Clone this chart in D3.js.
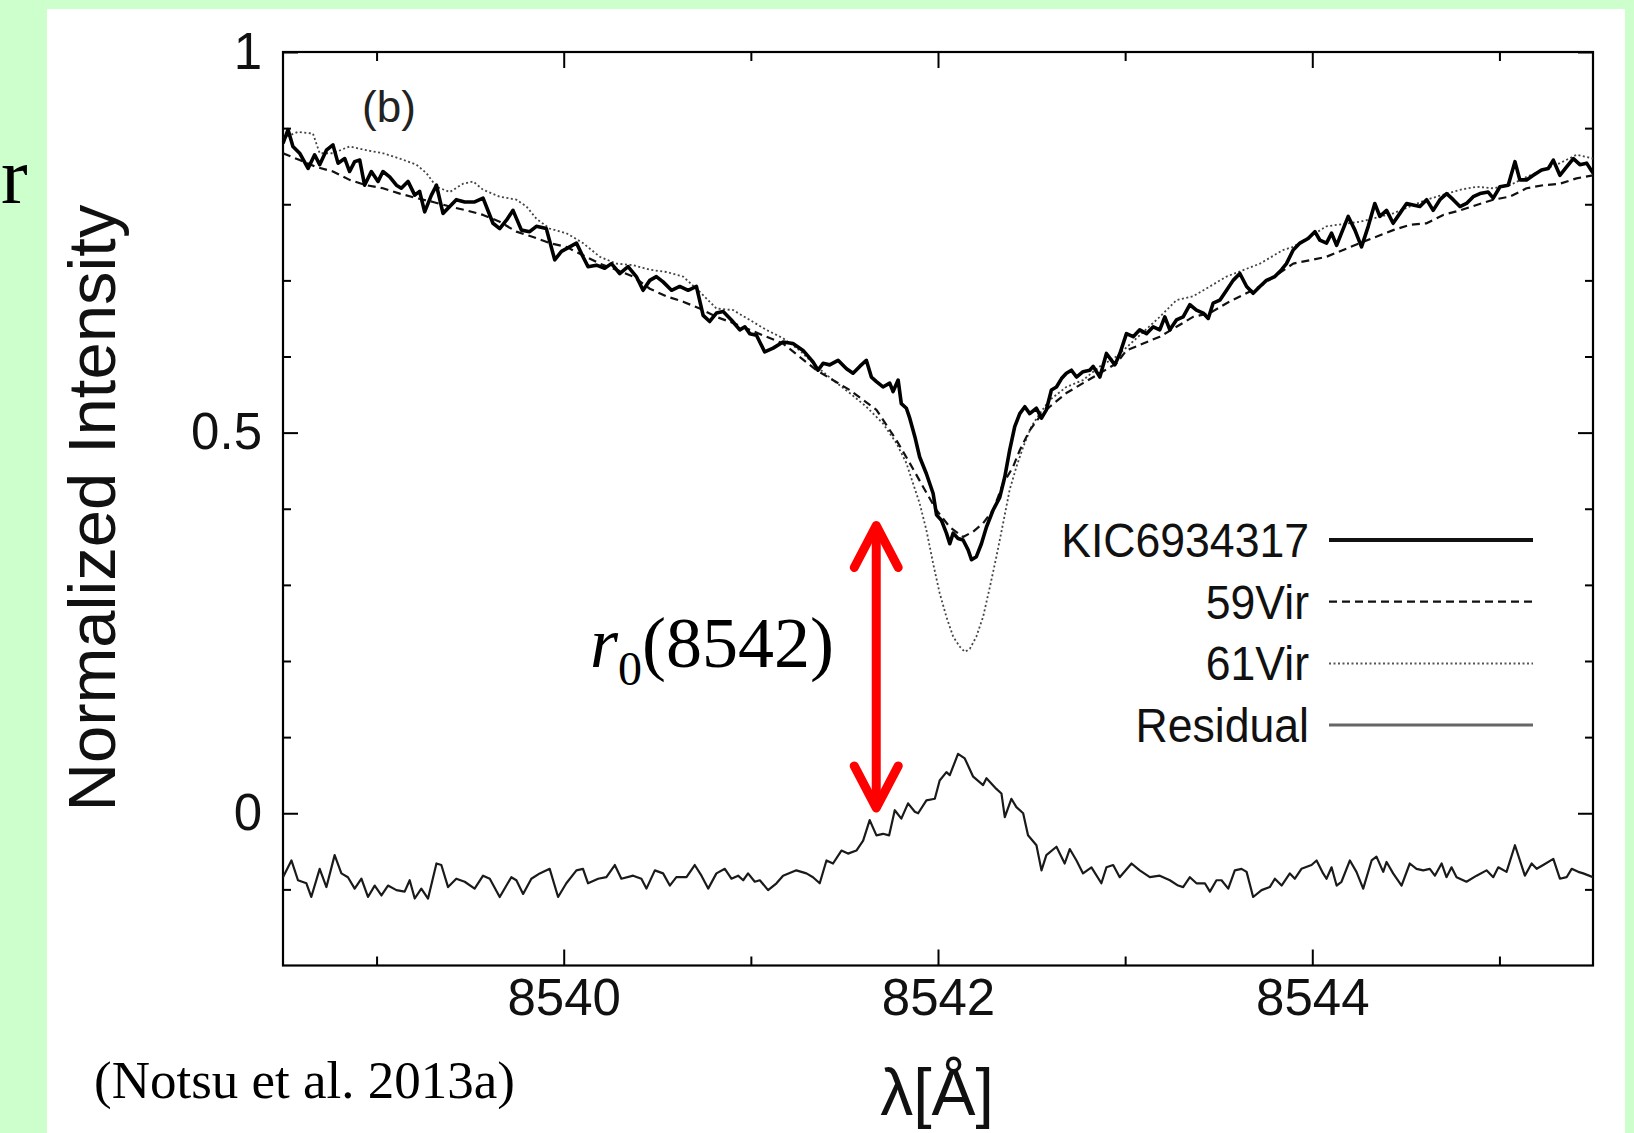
<!DOCTYPE html>
<html>
<head>
<meta charset="utf-8">
<script src="https://cdn.jsdelivr.net/npm/d3@7"></script>
<style>
  body { margin: 0; background: #ccffcc; }
  svg { display: block; }
  .sans { font-family: "Liberation Sans", Arial, Helvetica, sans-serif; }
  .serif { font-family: "Liberation Serif", "Times New Roman", serif; }
</style>
</head>
<body>
<div id="chart"></div>
<script>
// ----- Data (wavelength in Angstrom, normalized intensity) -----
const xMajorTicks = [8540, 8542, 8544];
const xMinorTicks = [8539, 8541, 8543, 8545];
const yMajorTicks = [0, 0.5, 1];
const yMinorTicks = [-0.1, 0.1, 0.2, 0.3, 0.4, 0.6, 0.7, 0.8, 0.9];

const seriesNames = ["KIC6934317", "59Vir", "61Vir", "Residual"];

const kic = [
  [8538.500,0.880],[8538.527,0.898],[8538.553,0.876],[8538.589,0.867],[8538.634,0.847],[8538.669,0.865],
  [8538.696,0.852],[8538.732,0.871],[8538.767,0.878],[8538.794,0.854],[8538.830,0.860],[8538.856,0.843],
  [8538.883,0.856],[8538.910,0.858],[8538.936,0.825],[8538.972,0.843],[8539.008,0.830],[8539.034,0.843],
  [8539.070,0.836],[8539.106,0.825],[8539.132,0.821],[8539.168,0.830],[8539.204,0.812],[8539.230,0.817],
  [8539.257,0.790],[8539.293,0.812],[8539.320,0.825],[8539.355,0.788],[8539.391,0.797],[8539.426,0.806],
  [8539.471,0.803],[8539.524,0.803],[8539.569,0.808],[8539.622,0.775],[8539.658,0.768],[8539.694,0.779],
  [8539.729,0.792],[8539.774,0.766],[8539.818,0.764],[8539.854,0.771],[8539.907,0.768],[8539.952,0.727],
  [8539.988,0.738],[8540.032,0.744],[8540.068,0.749],[8540.103,0.731],[8540.130,0.718],[8540.175,0.720],
  [8540.219,0.716],[8540.255,0.722],[8540.299,0.709],[8540.344,0.718],[8540.388,0.705],[8540.424,0.687],
  [8540.460,0.700],[8540.495,0.705],[8540.531,0.698],[8540.576,0.687],[8540.620,0.692],[8540.665,0.687],
  [8540.709,0.692],[8540.745,0.654],[8540.780,0.646],[8540.816,0.657],[8540.852,0.659],[8540.896,0.648],
  [8540.941,0.635],[8540.968,0.639],[8540.994,0.630],[8541.030,0.628],[8541.074,0.606],[8541.119,0.611],
  [8541.172,0.619],[8541.225,0.617],[8541.279,0.608],[8541.332,0.593],[8541.359,0.582],[8541.386,0.591],
  [8541.421,0.589],[8541.466,0.595],[8541.511,0.584],[8541.546,0.578],[8541.582,0.587],[8541.617,0.595],
  [8541.644,0.573],[8541.671,0.567],[8541.706,0.560],[8541.742,0.565],[8541.760,0.554],[8541.787,0.569],
  [8541.804,0.538],[8541.831,0.532],[8541.849,0.519],[8541.876,0.495],[8541.902,0.468],[8541.938,0.446],
  [8541.974,0.420],[8541.992,0.392],[8542.018,0.385],[8542.045,0.368],[8542.063,0.354],[8542.081,0.368],
  [8542.107,0.361],[8542.134,0.359],[8542.161,0.346],[8542.179,0.333],[8542.205,0.337],[8542.232,0.354],
  [8542.259,0.376],[8542.294,0.398],[8542.330,0.415],[8542.357,0.442],[8542.383,0.477],[8542.410,0.508],
  [8542.437,0.525],[8542.464,0.534],[8542.490,0.525],[8542.526,0.532],[8542.553,0.519],[8542.579,0.530],
  [8542.606,0.556],[8542.633,0.560],[8542.660,0.571],[8542.686,0.578],[8542.713,0.582],[8542.740,0.573],
  [8542.775,0.580],[8542.811,0.582],[8542.829,0.587],[8542.865,0.573],[8542.900,0.604],[8542.945,0.589],
  [8542.972,0.604],[8543.007,0.630],[8543.043,0.626],[8543.078,0.635],[8543.114,0.630],[8543.150,0.639],
  [8543.185,0.635],[8543.212,0.652],[8543.239,0.635],[8543.274,0.648],[8543.310,0.652],[8543.346,0.668],
  [8543.381,0.661],[8543.417,0.657],[8543.444,0.650],[8543.470,0.670],[8543.506,0.674],[8543.542,0.687],
  [8543.577,0.700],[8543.613,0.709],[8543.649,0.692],[8543.684,0.683],[8543.720,0.692],[8543.755,0.700],
  [8543.800,0.705],[8543.836,0.714],[8543.862,0.722],[8543.898,0.740],[8543.934,0.749],[8543.978,0.755],
  [8544.014,0.764],[8544.040,0.753],[8544.076,0.749],[8544.103,0.762],[8544.130,0.746],[8544.156,0.762],
  [8544.192,0.784],[8544.228,0.766],[8544.263,0.744],[8544.299,0.771],[8544.334,0.801],[8544.361,0.784],
  [8544.397,0.792],[8544.432,0.775],[8544.468,0.788],[8544.504,0.801],[8544.539,0.799],[8544.575,0.797],
  [8544.611,0.806],[8544.646,0.792],[8544.682,0.806],[8544.718,0.814],[8544.753,0.806],[8544.789,0.797],
  [8544.824,0.801],[8544.860,0.810],[8544.896,0.814],[8544.940,0.816],[8544.967,0.808],[8545.003,0.823],
  [8545.047,0.825],[8545.083,0.856],[8545.109,0.832],[8545.145,0.832],[8545.181,0.838],[8545.225,0.845],
  [8545.261,0.847],[8545.288,0.858],[8545.323,0.838],[8545.359,0.849],[8545.395,0.860],[8545.430,0.852],
  [8545.466,0.854],[8545.500,0.841]
];

const vir59 = [
  [8538.500,0.867],[8538.589,0.858],[8538.678,0.849],[8538.767,0.843],[8538.856,0.832],[8538.945,0.825],
  [8539.034,0.821],[8539.124,0.814],[8539.213,0.808],[8539.302,0.803],[8539.391,0.797],[8539.480,0.792],
  [8539.569,0.786],[8539.658,0.777],[8539.747,0.764],[8539.836,0.757],[8539.925,0.749],[8540.014,0.744],
  [8540.103,0.733],[8540.193,0.722],[8540.282,0.714],[8540.371,0.705],[8540.460,0.689],[8540.549,0.679],
  [8540.638,0.672],[8540.727,0.663],[8540.816,0.652],[8540.905,0.644],[8540.994,0.635],[8541.083,0.626],
  [8541.172,0.617],[8541.350,0.582],[8541.528,0.556],[8541.671,0.530],[8541.778,0.490],[8541.849,0.460],
  [8541.920,0.429],[8541.992,0.398],[8542.063,0.376],[8542.134,0.363],[8542.188,0.370],[8542.241,0.381],
  [8542.294,0.398],[8542.348,0.433],[8542.401,0.455],[8542.437,0.477],[8542.490,0.503],[8542.544,0.521],
  [8542.597,0.534],[8542.686,0.552],[8542.775,0.565],[8542.865,0.578],[8542.954,0.591],[8543.007,0.608],
  [8543.185,0.626],[8543.363,0.652],[8543.453,0.657],[8543.542,0.670],[8543.720,0.692],[8543.898,0.722],
  [8544.076,0.731],[8544.254,0.749],[8544.432,0.766],[8544.521,0.773],[8544.611,0.775],[8544.700,0.786],
  [8544.789,0.792],[8544.878,0.799],[8544.967,0.806],[8545.056,0.810],[8545.145,0.821],[8545.234,0.825],
  [8545.323,0.827],[8545.412,0.834],[8545.500,0.838]
];

const vir61 = [
  [8538.500,0.887],[8538.580,0.895],[8538.660,0.893],[8538.696,0.867],[8538.767,0.867],[8538.856,0.876],
  [8538.945,0.871],[8539.034,0.867],[8539.124,0.860],[8539.213,0.852],[8539.266,0.841],[8539.320,0.823],
  [8539.391,0.816],[8539.462,0.827],[8539.516,0.830],[8539.569,0.819],[8539.658,0.810],[8539.747,0.806],
  [8539.801,0.797],[8539.854,0.781],[8539.925,0.768],[8540.014,0.762],[8540.103,0.749],[8540.193,0.731],
  [8540.282,0.722],[8540.371,0.720],[8540.460,0.714],[8540.549,0.711],[8540.638,0.705],[8540.727,0.685],
  [8540.816,0.663],[8540.905,0.661],[8540.994,0.648],[8541.083,0.635],[8541.172,0.624],[8541.261,0.608],
  [8541.350,0.587],[8541.439,0.569],[8541.528,0.552],[8541.617,0.534],[8541.706,0.512],[8541.778,0.486],
  [8541.831,0.460],[8541.867,0.433],[8541.902,0.407],[8541.938,0.372],[8541.974,0.328],[8542.009,0.289],
  [8542.045,0.258],[8542.081,0.232],[8542.116,0.219],[8542.143,0.212],[8542.170,0.216],[8542.205,0.232],
  [8542.241,0.258],[8542.277,0.297],[8542.312,0.337],[8542.348,0.381],[8542.383,0.425],[8542.419,0.455],
  [8542.455,0.481],[8542.499,0.508],[8542.544,0.525],[8542.597,0.543],[8542.686,0.560],[8542.775,0.569],
  [8542.865,0.587],[8542.954,0.600],[8543.043,0.620],[8543.185,0.652],[8543.274,0.674],[8543.363,0.679],
  [8543.542,0.705],[8543.720,0.722],[8543.845,0.740],[8543.898,0.744],[8544.076,0.771],[8544.254,0.777],
  [8544.432,0.788],[8544.611,0.806],[8544.789,0.819],[8544.878,0.823],[8544.967,0.821],[8545.056,0.825],
  [8545.145,0.836],[8545.234,0.845],[8545.323,0.854],[8545.412,0.865],[8545.500,0.860]
];

const residual = [
  [8538.500,-0.084],[8538.545,-0.062],[8538.580,-0.088],[8538.625,-0.092],[8538.651,-0.110],[8538.696,-0.073],
  [8538.732,-0.097],[8538.776,-0.055],[8538.812,-0.079],[8538.847,-0.084],[8538.883,-0.099],[8538.919,-0.086],
  [8538.954,-0.110],[8538.990,-0.095],[8539.026,-0.108],[8539.061,-0.095],[8539.106,-0.101],[8539.150,-0.103],
  [8539.177,-0.088],[8539.204,-0.112],[8539.239,-0.099],[8539.275,-0.112],[8539.320,-0.066],[8539.346,-0.068],
  [8539.382,-0.097],[8539.426,-0.086],[8539.471,-0.090],[8539.524,-0.099],[8539.569,-0.082],[8539.605,-0.086],
  [8539.658,-0.110],[8539.720,-0.084],[8539.747,-0.088],[8539.783,-0.106],[8539.827,-0.086],[8539.872,-0.079],
  [8539.925,-0.073],[8539.970,-0.110],[8540.014,-0.092],[8540.068,-0.075],[8540.103,-0.073],[8540.130,-0.092],
  [8540.184,-0.086],[8540.228,-0.084],[8540.273,-0.068],[8540.308,-0.086],[8540.371,-0.082],[8540.415,-0.086],
  [8540.442,-0.099],[8540.487,-0.075],[8540.531,-0.079],[8540.567,-0.095],[8540.602,-0.084],[8540.656,-0.084],
  [8540.700,-0.068],[8540.736,-0.082],[8540.772,-0.099],[8540.816,-0.079],[8540.861,-0.073],[8540.896,-0.086],
  [8540.932,-0.082],[8540.959,-0.088],[8540.985,-0.079],[8541.021,-0.090],[8541.048,-0.088],[8541.092,-0.101],
  [8541.137,-0.092],[8541.172,-0.082],[8541.243,-0.075],[8541.297,-0.079],[8541.332,-0.084],[8541.368,-0.092],
  [8541.404,-0.062],[8541.439,-0.066],[8541.484,-0.049],[8541.519,-0.053],[8541.564,-0.049],[8541.600,-0.036],
  [8541.635,-0.009],[8541.671,-0.029],[8541.706,-0.027],[8541.739,-0.029],[8541.769,0.004],[8541.804,-0.007],
  [8541.840,0.013],[8541.876,0.002],[8541.894,0.000],[8541.938,0.017],[8541.983,0.019],[8542.009,0.043],
  [8542.045,0.054],[8542.063,0.050],[8542.107,0.078],[8542.143,0.072],[8542.188,0.048],[8542.241,0.037],
  [8542.259,0.046],[8542.312,0.032],[8542.339,0.026],[8542.357,-0.005],[8542.392,0.019],[8542.419,0.008],
  [8542.455,0.000],[8542.481,-0.029],[8542.526,-0.042],[8542.553,-0.075],[8542.579,-0.055],[8542.633,-0.044],
  [8542.677,-0.066],[8542.704,-0.047],[8542.740,-0.062],[8542.775,-0.079],[8542.820,-0.071],[8542.873,-0.092],
  [8542.900,-0.071],[8542.936,-0.068],[8542.971,-0.084],[8543.034,-0.066],[8543.078,-0.075],[8543.132,-0.084],
  [8543.185,-0.082],[8543.239,-0.088],[8543.283,-0.095],[8543.310,-0.097],[8543.346,-0.084],[8543.381,-0.092],
  [8543.426,-0.092],[8543.453,-0.103],[8543.488,-0.088],[8543.515,-0.088],[8543.551,-0.099],[8543.586,-0.075],
  [8543.622,-0.073],[8543.649,-0.077],[8543.684,-0.110],[8543.729,-0.101],[8543.773,-0.097],[8543.800,-0.086],
  [8543.836,-0.095],[8543.880,-0.079],[8543.907,-0.086],[8543.942,-0.073],[8543.996,-0.068],[8544.023,-0.062],
  [8544.058,-0.079],[8544.076,-0.086],[8544.103,-0.071],[8544.130,-0.095],[8544.156,-0.090],[8544.201,-0.062],
  [8544.236,-0.077],[8544.272,-0.099],[8544.317,-0.062],[8544.343,-0.057],[8544.379,-0.077],[8544.397,-0.064],
  [8544.432,-0.079],[8544.477,-0.095],[8544.521,-0.066],[8544.557,-0.073],[8544.593,-0.075],[8544.628,-0.073],
  [8544.655,-0.082],[8544.691,-0.066],[8544.717,-0.084],[8544.744,-0.071],[8544.771,-0.084],[8544.824,-0.090],
  [8544.878,-0.082],[8544.931,-0.075],[8544.967,-0.084],[8544.994,-0.071],[8545.038,-0.077],[8545.083,-0.042],
  [8545.136,-0.082],[8545.172,-0.066],[8545.199,-0.073],[8545.234,-0.068],[8545.288,-0.060],[8545.323,-0.086],
  [8545.359,-0.084],[8545.386,-0.073],[8545.421,-0.077],[8545.448,-0.079],[8545.500,-0.084]
];

// r0 arrow: wavelength and intensity span
const arrowLambda = 8541.67;
const arrowSpan = [0.007, 0.378];

// ----- Config -----
const width = 1634;
const height = 1133;
const plot = { left: 283, right: 1593, top: 52, bottom: 965.5 };

const series = [
  { name: seriesNames[0], data: kic,      stroke: "#000", width: 3.6, dash: null,  lw: 4,   lstroke: "#111" },
  { name: seriesNames[1], data: vir59,    stroke: "#111", width: 2.2, dash: "8,5", lw: 2.2, lstroke: "#111" },
  { name: seriesNames[2], data: vir61,    stroke: "#444", width: 1.8, dash: "2,2.5", lw: 2, lstroke: "#555" },
  { name: seriesNames[3], data: residual, stroke: "#1a1a1a", width: 2.2, dash: null, lw: 3, lstroke: "#666" }
];

// ----- SVG setup -----
const svg = d3.select("#chart")
  .append("svg")
  .attr("width", width)
  .attr("height", height);

svg.append("rect")
  .attr("width", width).attr("height", height)
  .attr("fill", "#ccffcc");

svg.append("rect")
  .attr("x", 47).attr("y", 9)
  .attr("width", 1578).attr("height", height - 9)
  .attr("fill", "#fff");

const x = d3.scaleLinear()
  .domain([8538.5, 8545.5])
  .range([plot.left, plot.right]);

const y = d3.scaleLinear()
  .domain([-0.2, 1])
  .range([plot.bottom, plot.top]);

// ----- Axes (ticks inward on all four sides) -----
function styleAxis(g) {
  g.select(".domain").remove();
  g.selectAll(".tick line").attr("stroke", "#000").attr("stroke-width", 2);
  g.selectAll("text")
    .attr("class", "sans")
    .attr("fill", "#111")
    .style("font-size", "51px");
}

svg.append("g")
  .attr("transform", `translate(0,${plot.bottom})`)
  .call(d3.axisBottom(x).tickValues(xMajorTicks).tickSize(-16).tickPadding(13).tickFormat(d3.format("d")))
  .call(styleAxis);
svg.append("g")
  .attr("transform", `translate(0,${plot.bottom})`)
  .call(d3.axisBottom(x).tickValues(xMinorTicks).tickSize(-9).tickFormat(""))
  .call(styleAxis);
svg.append("g")
  .attr("transform", `translate(0,${plot.top})`)
  .call(d3.axisTop(x).tickValues(xMajorTicks).tickSize(-16).tickFormat(""))
  .call(styleAxis);
svg.append("g")
  .attr("transform", `translate(0,${plot.top})`)
  .call(d3.axisTop(x).tickValues(xMinorTicks).tickSize(-9).tickFormat(""))
  .call(styleAxis);

svg.append("g")
  .attr("transform", `translate(${plot.left},0)`)
  .call(d3.axisLeft(y).tickValues(yMajorTicks).tickSize(-15).tickPadding(21).tickFormat(d => d))
  .call(styleAxis);
svg.append("g")
  .attr("transform", `translate(${plot.left},0)`)
  .call(d3.axisLeft(y).tickValues(yMinorTicks).tickSize(-8).tickFormat(""))
  .call(styleAxis);
svg.append("g")
  .attr("transform", `translate(${plot.right},0)`)
  .call(d3.axisRight(y).tickValues(yMajorTicks).tickSize(-15).tickFormat(""))
  .call(styleAxis);
svg.append("g")
  .attr("transform", `translate(${plot.right},0)`)
  .call(d3.axisRight(y).tickValues(yMinorTicks).tickSize(-8).tickFormat(""))
  .call(styleAxis);

// frame
svg.append("rect")
  .attr("x", plot.left).attr("y", plot.top)
  .attr("width", plot.right - plot.left).attr("height", plot.bottom - plot.top)
  .attr("fill", "none").attr("stroke", "#000").attr("stroke-width", 2.2);

// ----- Lines -----
svg.append("clipPath").attr("id", "clip")
  .append("rect")
  .attr("x", plot.left).attr("y", plot.top)
  .attr("width", plot.right - plot.left).attr("height", plot.bottom - plot.top);

const line = d3.line()
  .x(d => x(d[0]))
  .y(d => y(d[1]));

svg.append("g")
  .attr("clip-path", "url(#clip)")
  .selectAll("path")
  .data(series.slice().reverse())
  .join("path")
  .attr("d", d => line(d.data))
  .attr("fill", "none")
  .attr("stroke", d => d.stroke)
  .attr("stroke-width", d => d.width)
  .attr("stroke-dasharray", d => d.dash)
  .attr("stroke-linejoin", "round");

// ----- Legend -----
const legend = svg.append("g")
  .selectAll("g")
  .data(series)
  .join("g")
  .attr("transform", (d, i) => `translate(0,${557 + i * 61.7})`);

legend.append("text")
  .attr("class", "sans")
  .attr("transform", "translate(1309,0) scale(0.91,1)")
  .attr("text-anchor", "end")
  .attr("fill", "#111")
  .style("font-size", "49px")
  .text(d => d.name);

legend.append("line")
  .attr("x1", 1329).attr("x2", 1533)
  .attr("y1", -17).attr("y2", -17)
  .attr("stroke", d => d.lstroke)
  .attr("stroke-width", d => d.lw)
  .attr("stroke-dasharray", d => d.dash);

// ----- Labels -----
svg.append("text")
  .attr("class", "sans")
  .attr("x", 389).attr("y", 122)
  .attr("text-anchor", "middle")
  .attr("fill", "#222")
  .style("font-size", "44px")
  .text("(b)");

svg.append("text")
  .attr("class", "sans")
  .attr("transform", "translate(115,508) rotate(-90)")
  .attr("text-anchor", "middle")
  .attr("fill", "#111")
  .style("font-size", "67px")
  .text("Normalized Intensity");

svg.append("text")
  .attr("class", "sans")
  .attr("x", 937).attr("y", 1115)
  .attr("text-anchor", "middle")
  .attr("fill", "#111")
  .style("font-size", "66px")
  .text("λ[Å]");

svg.append("text")
  .attr("class", "serif")
  .attr("x", 94).attr("y", 1098)
  .attr("fill", "#000")
  .style("font-size", "53px")
  .text("(Notsu et al. 2013a)");

// fragment of a slide title, left edge
svg.append("text")
  .attr("class", "serif")
  .attr("x", 1).attr("y", 203)
  .attr("fill", "#000")
  .style("font-size", "80px")
  .text("r");

const r0 = svg.append("text")
  .attr("class", "serif")
  .attr("x", 834).attr("y", 667)
  .attr("text-anchor", "end")
  .attr("fill", "#000")
  .style("font-size", "72px");
r0.append("tspan").style("font-style", "italic").text("r");
r0.append("tspan").attr("dy", 18).style("font-size", "48px").text("0");
r0.append("tspan").attr("dy", -18).text("(8542)");

// ----- Red double arrow -----
const ax = x(arrowLambda);
const yTop = y(arrowSpan[1]);
const yBot = y(arrowSpan[0]);
const arrow = svg.append("g")
  .attr("stroke", "#ff0000")
  .attr("stroke-width", 9)
  .attr("stroke-linecap", "round")
  .attr("stroke-linejoin", "round")
  .attr("fill", "none");
arrow.append("line").attr("x1", ax).attr("x2", ax).attr("y1", yTop + 4).attr("y2", yBot - 4);
arrow.append("path").attr("d", `M${ax - 22},${yTop + 42} L${ax},${yTop} L${ax + 22},${yTop + 42}`);
arrow.append("path").attr("d", `M${ax - 22},${yBot - 42} L${ax},${yBot} L${ax + 22},${yBot - 42}`);
</script>
</body>
</html>
